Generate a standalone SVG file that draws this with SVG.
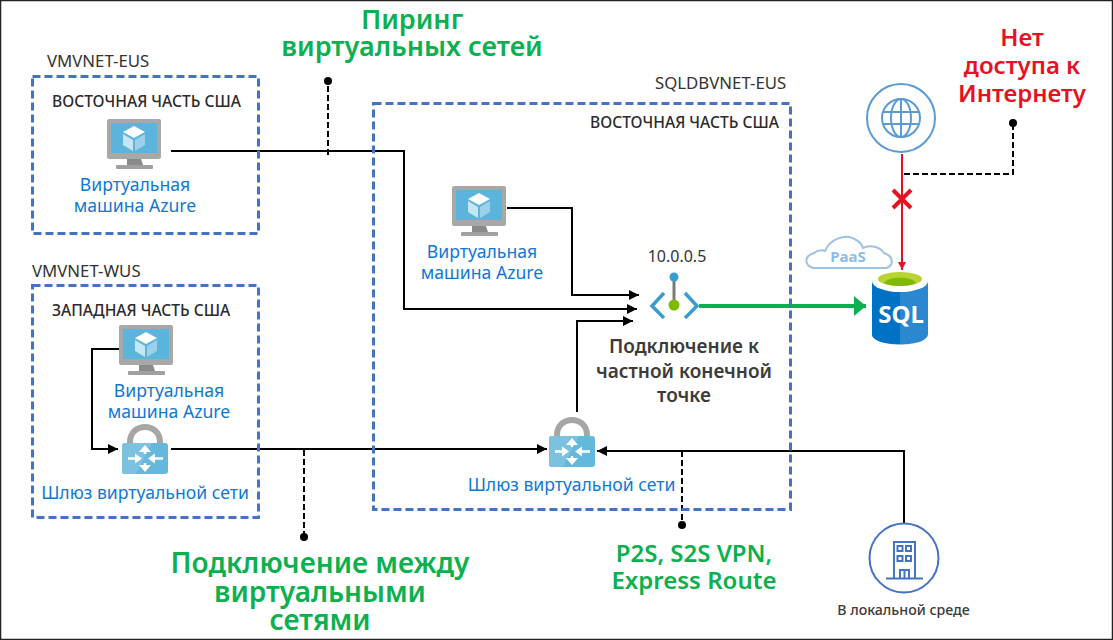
<svg xmlns="http://www.w3.org/2000/svg" xmlns:xlink="http://www.w3.org/1999/xlink" width="1113" height="640" viewBox="0 0 1113 640">
<style>
text{font-family:"Noto Sans","Open Sans","Liberation Sans",sans-serif}
.box{fill:none;stroke:#4472c4;stroke-width:3;stroke-dasharray:8 4}
.name{font-size:16.800px;fill:#333}
.region{font-size:15.600px;font-weight:500;fill:#2b2b2b}
.blue{font-size:17.600px;fill:#0f78d4;text-anchor:middle}
.green{font-size:28px;font-weight:600;fill:#0bb04f;text-anchor:middle}
.red{font-size:24px;font-weight:600;fill:#e81123;text-anchor:middle}
.dark{font-size:19px;font-weight:600;fill:#3b3b3b;text-anchor:middle}
.line{fill:none;stroke:#000;stroke-width:2}
.dash{fill:none;stroke:#000;stroke-width:2;stroke-dasharray:6 3}
</style>
<defs>
<marker id="a" markerUnits="userSpaceOnUse" markerWidth="12" markerHeight="12" refX="10" refY="5" orient="auto"><path d="M0 0L10 5L0 10Z" fill="#000"/></marker>
<marker id="g" markerUnits="userSpaceOnUse" markerWidth="14" markerHeight="22" refX="12" refY="10" orient="auto"><path d="M0 0L12 10L0 20Z" fill="#0bb04f"/></marker>
<marker id="r" markerUnits="userSpaceOnUse" markerWidth="10" markerHeight="10" refX="8" refY="4" orient="auto"><path d="M0 0L8 4L0 8Z" fill="#e81123"/></marker>
<g id="vm">
<rect x="0" y="0" width="54" height="40" rx="2" fill="#a8a8a8"/>
<rect x="4" y="4" width="46" height="30" fill="#5ab4dc"/>
<path d="M20 40H34L36 46H20Z" fill="#8a8a8a"/>
<rect x="9" y="46" width="37" height="4" rx="1" fill="#a0a0a0"/>
<path d="M27 7L38 13L27 19L16 13Z" fill="#fff"/>
<path d="M16 15L26 21V32L16 26Z" fill="#c5e6f2"/>
<path d="M38 15L28 21V32L38 26Z" fill="#9bd0e8"/>
</g>
<g id="gw">
<path d="M8 24V17C8 -3 38 -3 38 17V24" fill="none" stroke="#a6a6a6" stroke-width="6"/>
<rect x="0" y="18" width="46" height="31" rx="3" fill="#63b8dc"/>
<path d="M0 21A3 3 0 0 1 3 18H30L14 49H3A3 3 0 0 1 0 46Z" fill="#7cc2e0"/>
<g fill="none" stroke="#fff" stroke-width="2.500">
<path d="M6 33.500H15M31 33.500H41M23 24V29M23 38V44"/>
</g>
<g fill="#fff">
<path d="M13 28.500L20 33.500L13 38.500Z"/>
<path d="M33 28.500L26 33.500L33 38.500Z"/>
<path d="M17 27L23 20L29 27Z"/>
<path d="M17 40L23 47L29 40Z"/>
</g>
</g>
</defs>
<rect x="0.500" y="0.500" width="1112" height="639" fill="#fff" stroke="#222" stroke-width="1.500"/>

<g id="connectors">
<path class="line" d="M171 151H404V309H637" marker-end="url(#a)"/>
<path class="line" d="M507 208H572V295H639" marker-end="url(#a)"/>
<path class="line" d="M577 412V321H633" marker-end="url(#a)"/>
<path class="line" d="M119 349H92V449H118" marker-end="url(#a)"/>
<path class="line" d="M171 449H547" marker-end="url(#a)"/>
<path class="line" d="M904 523V451H597" marker-end="url(#a)"/>
<path d="M699 306H866" fill="none" stroke="#0bb04f" stroke-width="4" marker-end="url(#g)"/>
<path d="M902 154V270" fill="none" stroke="#e81123" stroke-width="2" marker-end="url(#r)"/>
<path d="M893 190L911 208M911 190L893 208" fill="none" stroke="#e81123" stroke-width="4"/>
<path class="dash" d="M328 155V82"/><circle cx="328" cy="81" r="4"/>
<path class="dash" d="M304 450V537"/><circle cx="304" cy="537" r="4"/>
<path class="dash" d="M682 451V525"/><circle cx="682" cy="525" r="4"/>
<path class="dash" d="M904 174H1013V123"/><circle cx="1013" cy="123" r="4"/>
</g>

<g id="vmvnet-eus">
<rect class="box" x="32.500" y="76.500" width="226" height="157"/>
<text class="name" x="47" y="67">VMVNET-EUS</text>
<text class="region" x="52" y="107">ВОСТОЧНАЯ ЧАСТЬ США</text>
<use xlink:href="#vm" href="#vm" x="107" y="119"/>
<text class="blue" x="135" y="191">Виртуальная</text>
<text class="blue" x="135" y="212">машина Azure</text>
</g>

<g id="vmvnet-wus">
<rect class="box" x="32.500" y="285.500" width="226" height="232"/>
<text class="name" x="32" y="277">VMVNET-WUS</text>
<text class="region" x="52" y="316">ЗАПАДНАЯ ЧАСТЬ США</text>
<use xlink:href="#vm" href="#vm" x="119" y="325"/>
<text class="blue" x="169" y="397">Виртуальная</text>
<text class="blue" x="169" y="418">машина Azure</text>
<use xlink:href="#gw" href="#gw" x="122" y="425"/>
<text class="blue" x="145" y="499">Шлюз виртуальной сети</text>
</g>

<g id="sqldbvnet-eus">
<rect class="box" x="373.500" y="103.500" width="417" height="406"/>
<text class="name" x="655" y="89">SQLDBVNET-EUS</text>
<text class="region" x="590" y="128">ВОСТОЧНАЯ ЧАСТЬ США</text>
<use xlink:href="#vm" href="#vm" x="452" y="186"/>
<text class="blue" x="482" y="258">Виртуальная</text>
<text class="blue" x="482" y="279">машина Azure</text>
<use xlink:href="#gw" href="#gw" x="549" y="418"/>
<text class="blue" x="571.500" y="491">Шлюз виртуальной сети</text>
</g>

<g id="private-endpoint">
<text x="677" y="262" font-size="16" fill="#333" text-anchor="middle">10.0.0.5</text>
<path d="M674 277V305" stroke="#7a7a7a" stroke-width="3"/>
<circle cx="674" cy="277" r="4.500" fill="#3b9ccf"/>
<circle cx="674" cy="305" r="5.500" fill="#7fba00"/>
<path d="M664 293L652 306L664 318M685 293L697 306L685 318" fill="none" stroke="#3b9ccf" stroke-width="3.500"/>
<text class="dark" x="684" y="353">Подключение к</text>
<text class="dark" x="684" y="378">частной конечной</text>
<text class="dark" x="684" y="402">точке</text>
</g>

<g id="internet">
<circle cx="901" cy="118" r="34" fill="#fff" stroke="#5b9bd5" stroke-width="2"/>
<g fill="none" stroke="#5b9bd5" stroke-width="2">
<circle cx="901" cy="118" r="19"/>
<ellipse cx="901" cy="118" rx="10" ry="19"/>
<path d="M901 99V137M883 112H919M883 124H919"/>
</g>
</g>

<g id="paas">
<path d="M813 268C804 265 804 256 814 253C818 250 822 250 825 251C829 240 846 232 856 240C860 242 862 245 863 248C870 244 880 247 884 253C894 256 894 266 886 268Z" fill="#fff" stroke="#9cc3e6" stroke-width="2"/>
<text x="848" y="262" font-size="15" font-weight="700" fill="#8dbce6" text-anchor="middle">PaaS</text>
</g>

<g id="sql">
<path d="M872 281V334C872 348 928 348 928 334V281Z" fill="#2a87d0"/>
<path d="M872 281V334C872 341 886 344 900 344V292Z" fill="#0072c6"/>
<ellipse cx="900" cy="281" rx="28" ry="11" fill="#fff"/>
<ellipse cx="900" cy="279" rx="22" ry="7" fill="#b8d432"/>
<path d="M884 283C888 276 912 276 916 283C910 287 890 287 884 283Z" fill="#7fba00"/>
<text x="901" y="323" font-size="24" font-weight="700" fill="#fff" text-anchor="middle">SQL</text>
</g>

<g id="on-prem">
<circle cx="904" cy="558" r="34.500" fill="#fff" stroke="#4472c4" stroke-width="2"/>
<g fill="none" stroke="#4472c4" stroke-width="2">
<path d="M894 578V542H915V578"/>
<rect x="897.500" y="546" width="5" height="5"/><rect x="906" y="546" width="5" height="5"/>
<rect x="897.500" y="556" width="5" height="5"/><rect x="906" y="556" width="5" height="5"/>
<path d="M900 578V570H909V578M904.500 570V578M886 578.500H923"/>
</g>
<text x="903.500" y="615" font-size="14.200" font-weight="500" fill="#3b3b3b" text-anchor="middle">В локальной среде</text>
</g>

<g id="labels">
<text class="green" x="412" y="29" style="font-size:27px">Пиринг</text>
<text class="green" x="412" y="56" style="font-size:27px">виртуальных сетей</text>
<text class="red" x="1022" y="46">Нет</text>
<text class="red" x="1022" y="74">доступа к</text>
<text class="red" x="1022" y="102">Интернету</text>
<text class="green" x="320" y="573">Подключение между</text>
<text class="green" x="320" y="602">виртуальными</text>
<text class="green" x="320" y="630">сетями</text>
<text class="green" x="694" y="562" style="font-size:24px">P2S, S2S VPN,</text>
<text class="green" x="694" y="589" style="font-size:24px">Express Route</text>
</g>
</svg>
